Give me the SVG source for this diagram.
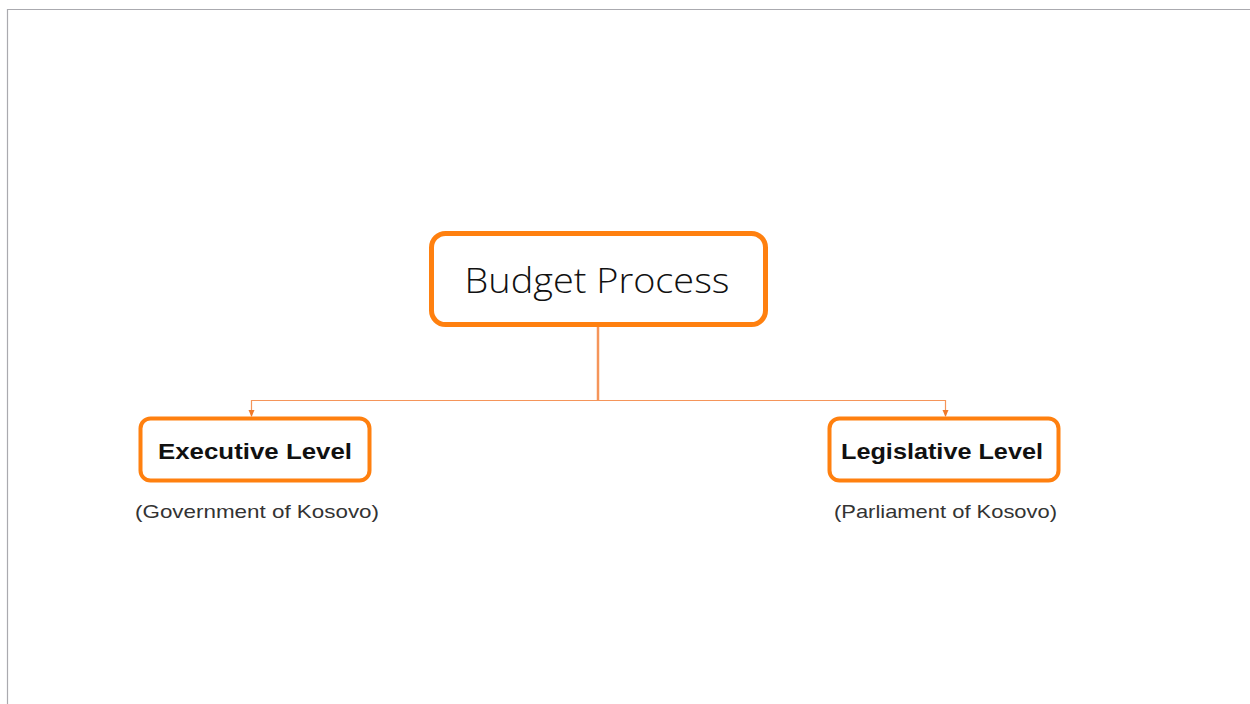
<svg xmlns="http://www.w3.org/2000/svg" width="1250" height="704" viewBox="0 0 1250 704">
<defs>
<style>
.box{fill:#fff;stroke:#ff800f;}
.main{font-family:"Open Sans","Liberation Sans",sans-serif;font-weight:300;font-size:34px;fill:#111;}
.lvl{font-family:"Liberation Sans",Arial,sans-serif;font-weight:bold;font-size:22px;fill:#111;}
.sub{font-family:"Liberation Sans",Arial,sans-serif;font-size:19px;fill:#333;}
.conn{stroke:#f5955a;fill:none;}
</style>
<marker id="arr" markerWidth="8" markerHeight="8" refX="6" refY="4" orient="auto" markerUnits="userSpaceOnUse" viewBox="0 0 8 8">
<path d="M0,1 L7,4 L0,7 Z" fill="#f07a2a"/>
</marker>
</defs>
<rect width="1250" height="704" fill="#fff"/>
<path d="M7.5,704 V9.5 H1250" fill="none" stroke="#aaaaaf" stroke-width="1.2"/>
<g id="connectors">
<line class="conn" x1="598" y1="325" x2="598" y2="400.5" stroke-width="2.5"/>
<path class="conn" d="M598,400.5 H251.5 V416" stroke-width="1.2" marker-end="url(#arr)"/>
<path class="conn" d="M598,400.5 H945.5 V416" stroke-width="1.2" marker-end="url(#arr)"/>
</g>
<g id="budget-process">
<rect class="box" x="431.5" y="233.5" width="334" height="91" rx="14" stroke-width="5"/>
<text class="main" x="597" y="293" text-anchor="middle" textLength="265" lengthAdjust="spacingAndGlyphs">Budget Process</text>
</g>
<g id="executive-level">
<rect class="box" x="140.5" y="418.5" width="229" height="62" rx="10" stroke-width="4"/>
<text class="lvl" x="255" y="459" text-anchor="middle" textLength="194" lengthAdjust="spacingAndGlyphs">Executive Level</text>
<text class="sub" x="257" y="518" text-anchor="middle" textLength="244" lengthAdjust="spacingAndGlyphs">(Government of Kosovo)</text>
</g>
<g id="legislative-level">
<rect class="box" x="829.5" y="418.5" width="229" height="62" rx="10" stroke-width="4"/>
<text class="lvl" x="942" y="459" text-anchor="middle" textLength="202" lengthAdjust="spacingAndGlyphs">Legislative Level</text>
<text class="sub" x="945.5" y="518" text-anchor="middle" textLength="223" lengthAdjust="spacingAndGlyphs">(Parliament of Kosovo)</text>
</g>
</svg>
